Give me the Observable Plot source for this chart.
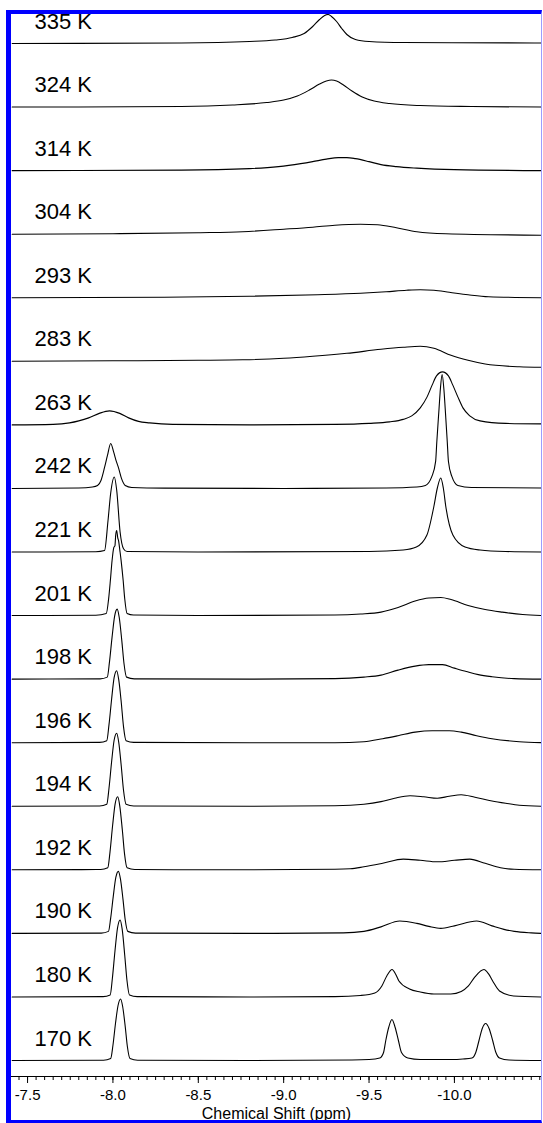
<!DOCTYPE html>
<html>
<head>
<meta charset="utf-8">
<script src="https://cdn.jsdelivr.net/npm/d3@7"></script>
<script src="https://cdn.jsdelivr.net/npm/@observablehq/plot@0.6"></script>
<style>
  html, body { margin: 0; padding: 0; background: #fff; }
  #wrap { position: relative; width: 543px; height: 1123px; overflow: hidden; }
  #wrap svg { position: absolute; left: 0; top: 0; }
  #border {
    position: absolute; left: 6px; top: 10px; width: 536px; height: 1113px;
    box-sizing: border-box;
    border-left: 5px solid #0000ff; border-top: 4px solid #0000ff;
    border-bottom: 3px solid #0000ff; border-right: 1px solid #9c9cff;
    pointer-events: none;
  }
</style>
</head>
<body>
<div id="wrap"><div id="border"></div></div>
<script>
// Temperature labels, top to bottom
const temps = ["335 K","324 K","314 K","304 K","293 K","283 K","263 K","242 K","221 K",
               "201 K","198 K","196 K","194 K","192 K","190 K","180 K","170 K"];

// Each spectrum: [chemical shift (ppm), intensity above its baseline]
const spec335 = [[-7.41,0],[-8.40,0.5],[-8.80,2],[-8.95,3.5],[-9.05,6],[-9.12,10],[-9.17,17],[-9.21,24],[-9.24,28],[-9.26,29],[-9.28,27],[-9.31,22],[-9.34,15],[-9.37,9],[-9.42,4],[-9.50,2],[-9.70,1],[-10.51,0.5]];
const spec324 = [[-7.41,0],[-8.40,0.5],[-8.70,2],[-8.90,4.5],[-9.00,7],[-9.08,11],[-9.15,17],[-9.21,23],[-9.25,26],[-9.28,27],[-9.31,26],[-9.35,22],[-9.40,16],[-9.46,10],[-9.53,6],[-9.62,3.5],[-9.80,1.5],[-10.10,0.5],[-10.51,0]];
const spec314 = [[-7.41,0],[-8.40,0.5],[-8.80,2],[-8.97,4],[-9.10,7],[-9.17,9],[-9.25,11.5],[-9.32,13],[-9.37,13],[-9.42,12],[-9.50,9],[-9.57,6],[-9.66,4],[-9.78,2.5],[-10.00,1],[-10.51,0]];
const spec304 = [[-7.41,0],[-8.00,0.5],[-8.50,1.5],[-8.76,2.5],[-9.00,5],[-9.17,7],[-9.30,9],[-9.45,10],[-9.55,9.5],[-9.66,6.5],[-9.78,2.5],[-9.95,0.5],[-10.51,-1]];
const spec293 = [[-7.41,0],[-8.30,0.5],[-8.80,1.5],[-9.20,3],[-9.45,4.5],[-9.60,6],[-9.72,7.5],[-9.80,8],[-9.88,7.5],[-9.97,5.5],[-10.08,3],[-10.20,1],[-10.51,0]];
const spec283 = [[-7.41,0],[-8.00,0.5],[-8.50,1],[-8.76,1.5],[-9.00,3],[-9.17,5],[-9.37,8],[-9.57,12],[-9.70,14],[-9.80,15],[-9.88,13],[-9.98,6],[-10.08,1],[-10.18,-2.7],[-10.38,-5.5],[-10.51,-6]];
const spec263 = [[-7.41,0],[-7.65,0.5],[-7.746,2],[-7.80,4],[-7.858,7],[-7.92,11.5],[-7.98,14],[-8.04,11.5],[-8.092,7],[-8.15,3.5],[-8.215,2],[-8.35,0.5],[-8.80,0],[-9.30,0.5],[-9.50,1.5],[-9.62,3],[-9.70,5.5],[-9.75,9],[-9.80,17],[-9.84,28],[-9.87,40],[-9.895,49],[-9.93,53],[-9.965,49],[-9.99,40],[-10.02,28],[-10.05,17],[-10.09,9],[-10.15,4],[-10.30,1.5],[-10.51,1]];
const spec242 = [[-7.41,0],[-7.80,0.5],[-7.88,1.5],[-7.91,3],[-7.93,8],[-7.951,21],[-7.968,33],[-7.987,45],[-8.005,36],[-8.02,27],[-8.032,21],[-8.05,10],[-8.072,3],[-8.11,1],[-8.30,0.3],[-9.00,0],[-9.60,0.5],[-9.78,1.5],[-9.83,3],[-9.868,12],[-9.89,27],[-9.897,47],[-9.91,80],[-9.918,100],[-9.928,114],[-9.938,100],[-9.946,80],[-9.958,47],[-9.965,27],[-9.985,12],[-10.02,3],[-10.10,1],[-10.51,0.5]];
const spec221 = [[-7.41,0],[-7.90,0.3],[-7.951,1.5],[-7.971,31],[-7.987,59],[-8.008,75],[-8.022,62],[-8.042,20],[-8.062,3.3],[-8.083,0.5],[-8.50,0],[-9.50,0.5],[-9.70,2],[-9.777,5],[-9.839,17],[-9.879,45],[-9.90,64],[-9.92,74],[-9.935,64],[-9.95,45],[-9.991,17],[-10.062,5],[-10.15,2],[-10.30,0.5],[-10.51,0]];
const spec201 = [[-7.41,0],[-7.90,0.3],[-7.961,2],[-7.975,17],[-7.985,35],[-7.995,55],[-8.005,68],[-8.012,70],[-8.016,80],[-8.022,85],[-8.028,78],[-8.034,74],[-8.04,66],[-8.048,55],[-8.06,35],[-8.069,17],[-8.083,2],[-8.12,0.5],[-8.50,0],[-9.30,0.5],[-9.45,1.5],[-9.57,3.4],[-9.67,8],[-9.77,14.5],[-9.85,17.5],[-9.92,18],[-9.98,16],[-10.08,10],[-10.18,6],[-10.28,3.4],[-10.40,1],[-10.51,0]];
const spec198 = [[-7.41,0],[-7.925,0.3],[-7.967,2],[-7.98,17.5],[-7.995,42],[-8.01,63],[-8.025,70],[-8.037,61.6],[-8.052,38.5],[-8.065,15.4],[-8.08,2],[-8.125,0.3],[-8.80,0],[-9.30,0.5],[-9.47,2],[-9.57,4],[-9.67,9],[-9.77,13],[-9.85,14.5],[-9.93,14.5],[-10.00,11],[-10.07,7.6],[-10.14,4.5],[-10.22,2.4],[-10.35,0.5],[-10.51,0]];
const spec196 = [[-7.41,0],[-7.922,0.3],[-7.964,2],[-7.977,18],[-7.992,43],[-8.007,65],[-8.022,72],[-8.034,63],[-8.049,40],[-8.062,16],[-8.077,2],[-8.122,0.3],[-8.80,0],[-9.30,0],[-9.47,1],[-9.58,4],[-9.67,7],[-9.77,10.6],[-9.87,12],[-9.97,12],[-10.04,10.6],[-10.13,7],[-10.22,4],[-10.38,1],[-10.51,0]];
const spec194 = [[-7.41,0],[-7.922,0.3],[-7.964,2],[-7.977,18],[-7.992,44],[-8.007,66],[-8.022,73],[-8.034,64],[-8.049,40],[-8.062,16],[-8.077,2],[-8.122,0.3],[-8.80,0],[-9.30,0.5],[-9.47,2],[-9.57,4.6],[-9.65,8],[-9.74,10.5],[-9.82,9.5],[-9.90,8],[-9.97,10],[-10.04,11.5],[-10.12,9],[-10.22,5.3],[-10.30,3],[-10.38,1],[-10.51,0]];
const spec192 = [[-7.41,0],[-7.928,0.3],[-7.970,2],[-7.983,18],[-7.998,44],[-8.013,66],[-8.028,73],[-8.040,64],[-8.055,40],[-8.068,16],[-8.083,2],[-8.128,0.3],[-8.80,0],[-9.30,0.5],[-9.39,1],[-9.47,3],[-9.58,6.5],[-9.70,10.7],[-9.80,9.5],[-9.90,8],[-10.00,9.5],[-10.09,10.7],[-10.18,6.5],[-10.27,2],[-10.35,0.5],[-10.51,0]];
const spec190 = [[-7.41,0],[-7.932,0.3],[-7.974,2],[-7.987,15.5],[-8.002,37],[-8.017,56],[-8.032,62],[-8.044,54.5],[-8.059,34],[-8.072,13.6],[-8.087,2],[-8.132,0.3],[-8.80,0],[-9.35,0.5],[-9.47,2],[-9.57,6.5],[-9.68,12.4],[-9.78,10],[-9.85,7],[-9.92,5],[-10.00,7.5],[-10.13,12.4],[-10.22,7.5],[-10.29,4],[-10.35,2],[-10.45,0.5],[-10.51,0]];
const spec180 = [[-7.41,0],[-7.942,0.3],[-7.984,2],[-7.997,19],[-8.012,46],[-8.027,69],[-8.042,77],[-8.054,68],[-8.069,42],[-8.082,17],[-8.097,2],[-8.142,0.3],[-8.80,0],[-9.30,0.3],[-9.45,1.5],[-9.534,4],[-9.575,11],[-9.604,21],[-9.635,27.4],[-9.655,23],[-9.675,16],[-9.737,8],[-9.80,5],[-9.88,3],[-9.979,3],[-10.04,5.5],[-10.082,11],[-10.12,20],[-10.173,27.4],[-10.20,23],[-10.224,16],[-10.264,6],[-10.346,1],[-10.51,0]];
const spec170 = [[-7.41,0],[-7.945,0.3],[-7.987,2],[-8.0,15],[-8.015,37],[-8.03,55],[-8.045,61.5],[-8.057,54],[-8.072,34],[-8.085,13.5],[-8.10,2],[-8.145,0.3],[-8.80,0],[-9.40,0.5],[-9.50,1],[-9.563,2.5],[-9.585,8],[-9.598,20],[-9.615,33],[-9.634,41],[-9.653,33],[-9.672,20],[-9.69,8],[-9.727,2.5],[-9.80,1],[-9.98,1],[-10.05,1.5],[-10.103,2.5],[-10.125,8],[-10.144,20],[-10.163,32],[-10.183,37],[-10.203,32],[-10.224,20],[-10.243,8],[-10.264,2.5],[-10.32,0.5],[-10.51,0]];

const spectra = [spec335, spec324, spec314, spec304, spec293, spec283, spec263, spec242, spec221,
                 spec201, spec198, spec196, spec194, spec192, spec190, spec180, spec170];

// Axis ticks (ppm)
const majorTicks = [-7.5, -8.0, -8.5, -9.0, -9.5, -10.0];
const minorTicks = d3.range(-7.45, -10.52, -0.05).map(v => +v.toFixed(2));
const xTitle = "Chemical Shift (ppm)";

// Stack offset between consecutive spectra (intensity units)
const spacing = 63.5625;
const n = temps.length;
const rows = temps.flatMap((t, i) =>
  spectra[i].map(([ppm, v]) => ({t, ppm, y: (n - 1 - i) * spacing + v})));
const labels = temps.map((t, i) => ({t, y: (n - 1 - i) * spacing}));

const chart = Plot.plot({
  width: 543,
  height: 1123,
  marginLeft: 11,
  marginRight: 2,
  marginTop: 14,
  marginBottom: 47,
  style: {fontFamily: "'Liberation Sans', Arial, sans-serif", background: "white", color: "black"},
  x: {domain: [-7.406, -10.51]},
  y: {domain: [-16, 1046], axis: null},
  marks: [
    Plot.line(rows, {x: "ppm", y: "y", z: "t", curve: "monotone-x", stroke: "black", strokeWidth: 1.1, clip: true}),
    Plot.text(labels, {y: "y", text: "t", frameAnchor: "left", dx: 23, dy: -22, textAnchor: "start", fontSize: 22, fill: "black"}),
    Plot.ruleY([-16], {stroke: "black", strokeWidth: 1}),
    Plot.axisX(minorTicks, {tickSize: 4, tickFormat: () => "", label: null}),
    Plot.axisX(majorTicks, {tickSize: 7, tickPadding: 6, tickFormat: d => d.toFixed(1), fontSize: 15, label: null}),
    Plot.text([xTitle], {frameAnchor: "bottom", lineAnchor: "top", dy: 31, fontSize: 16, fill: "black"})
  ]
});
document.getElementById("wrap").insertBefore(chart, document.getElementById("border"));
</script>
</body>
</html>
